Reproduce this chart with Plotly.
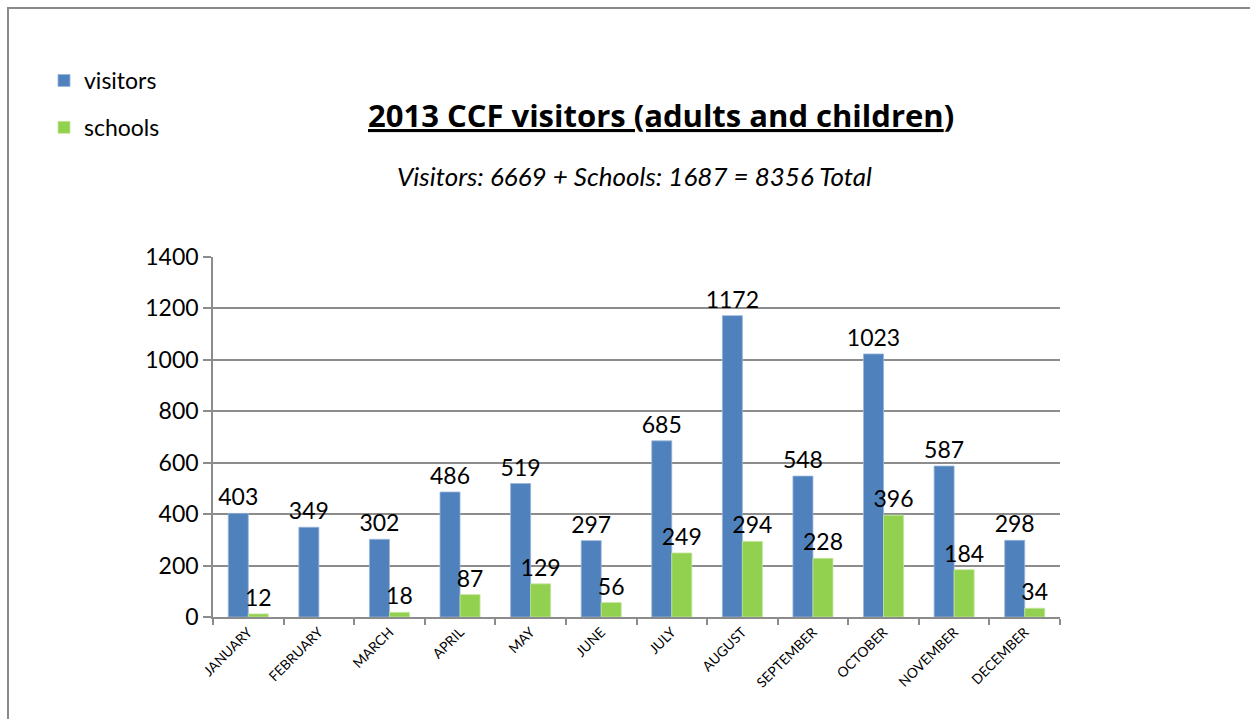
import plotly.graph_objects as go

# Monthly attendance figures, 2013
months = ["JANUARY", "FEBRUARY", "MARCH", "APRIL", "MAY", "JUNE",
          "JULY", "AUGUST", "SEPTEMBER", "OCTOBER", "NOVEMBER", "DECEMBER"]
visitors = [403, 349, 302, 486, 519, 297, 685, 1172, 548, 1023, 587, 298]
schools = [12, None, 18, 87, 129, 56, 249, 294, 228, 396, 184, 34]

title_text = "<b><u>2013 CCF visitors (adults and children</u>)</b>"
subtitle_text = "<i>Visitors: 6669 + Schools: 1687 = 8356 Total</i>"

W, H = 1250, 719
L, R, T, B = 213, 190, 257, 102
plot_w = W - L - R
plot_h = H - T - B


def px_x(x):
    return (x - L) / plot_w


def px_y(y):
    return (H - B - y) / plot_h


FONT = "Lato, Open Sans, sans-serif"
GRID = "#8c8c8c"

fig = go.Figure()
fig.add_trace(go.Bar(
    x=months, y=visitors, name="visitors",
    marker=dict(color="#4F81BD", line=dict(color="#9bb5d8", width=0.8)),
    text=visitors, texttemplate="%{y}", textposition="outside",
    textfont=dict(family=FONT, size=23, color="#000000"),
    constraintext="none", cliponaxis=False, legendgroup="v",
))
fig.add_trace(go.Bar(
    x=months, y=schools, name="schools",
    marker=dict(color="#92D050", line=dict(color="#c3e49c", width=0.8)),
    text=schools, texttemplate="%{y}", textposition="outside",
    textfont=dict(family=FONT, size=23, color="#000000"),
    constraintext="none", cliponaxis=False, legendgroup="s",
))

fig.update_layout(
    width=W, height=H,
    margin=dict(l=L, r=R, t=T, b=B, pad=0),
    paper_bgcolor="white", plot_bgcolor="white",
    font=dict(family=FONT, color="#000000"),
    barmode="group", bargap=0.433, bargroupgap=0,
    showlegend=True,
    legend=dict(
        x=px_x(44), y=px_y(59), xanchor="left", yanchor="top",
        font=dict(family=FONT, size=23, color="#000000"),
        tracegroupgap=14, bgcolor="rgba(0,0,0,0)",
    ),
    xaxis=dict(
        type="category", tickangle=-45, tickson="boundaries",
        ticks="outside", ticklen=6, tickcolor=GRID, tickwidth=1.5,
        showline=True, linecolor=GRID, linewidth=1.5,
        showgrid=False, tickfont=dict(family=FONT, size=13.8),
    ),
    yaxis=dict(
        range=[0, 1400], dtick=200, tick0=0,
        ticks="outside", ticklen=8, tickcolor=GRID, tickwidth=1.5,
        showline=True, linecolor=GRID, linewidth=1.5,
        showgrid=True, gridcolor=GRID, gridwidth=1.5,
        zeroline=False, tickfont=dict(family=FONT, size=23),
    ),
    annotations=[
        dict(text=title_text, x=px_x(661), y=px_y(115), xref="paper", yref="paper",
             xanchor="center", yanchor="middle", showarrow=False,
             font=dict(family="Open Sans, Lato, sans-serif", size=31, color="#000000")),
        dict(text=subtitle_text, x=px_x(634), y=px_y(176), xref="paper", yref="paper",
             xanchor="center", yanchor="middle", showarrow=False,
             font=dict(family=FONT, size=26, color="#000000")),
    ],
    shapes=[
        dict(type="rect", xref="paper", yref="paper",
             x0=px_x(8), x1=px_x(W + 20), y0=px_y(H + 20), y1=px_y(8),
             line=dict(color="#8a8a8a", width=2), fillcolor="rgba(0,0,0,0)",
             layer="below"),
    ],
)

fig.write_html("out.html")
